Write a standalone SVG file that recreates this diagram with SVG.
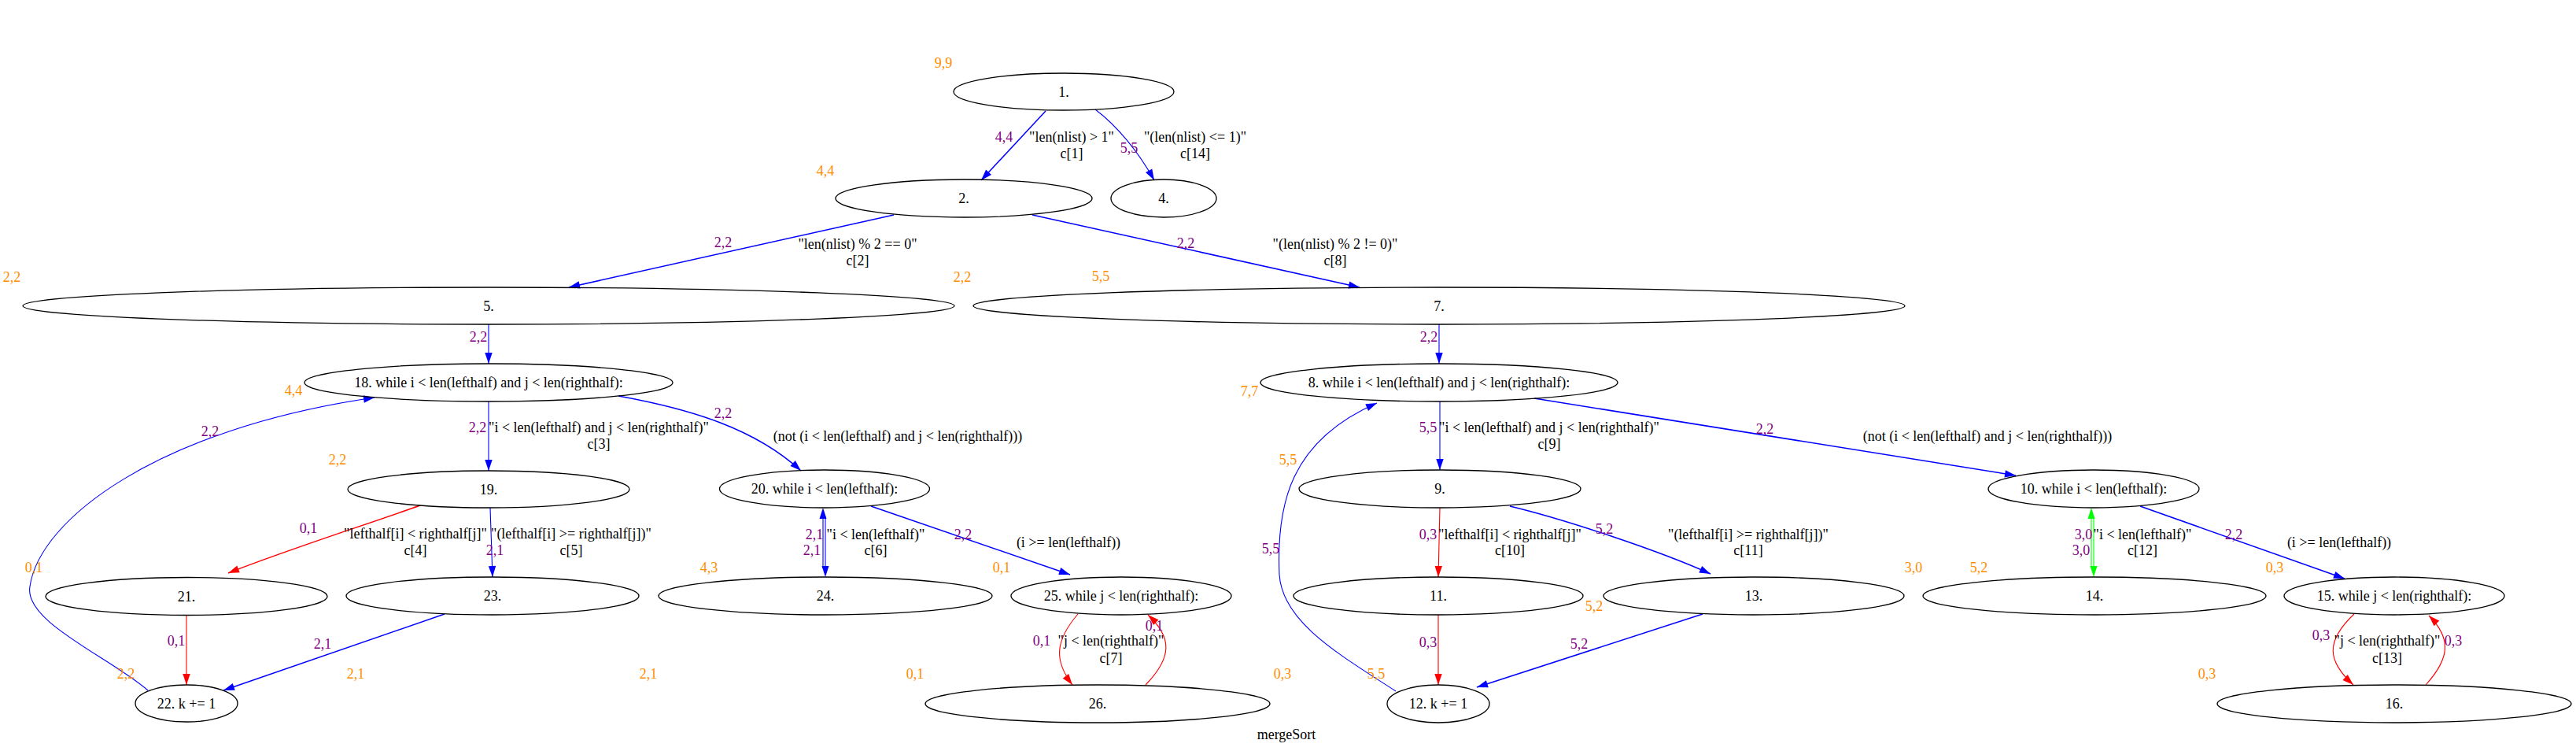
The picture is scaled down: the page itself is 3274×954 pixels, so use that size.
<svg xmlns="http://www.w3.org/2000/svg" width="3274" height="954" viewBox="0 0 3274 954">
<defs>
<style>
.n ellipse{fill:none;stroke:#000;stroke-width:1.3}
text{font-family:"Liberation Serif","Times New Roman",serif;font-size:18px;text-anchor:middle;fill:#000}
.o{fill:#ff8c00}
.p{fill:#800080}
.e path,.e line{fill:none}
.b{stroke:#0000ff}
.r{stroke:#ff0000}
.g{stroke:#00ff00}
.k{stroke-width:1.5}
.h{stroke-width:1.1}
.fb{fill:#0000ff}
.fg{fill:#00ff00}
</style>
<marker id="mb" markerUnits="userSpaceOnUse" markerWidth="14" markerHeight="10" refX="14" refY="5" orient="auto" overflow="visible"><path d="M0,0.3L14,5L0,9.7z" fill="#0000ff"/></marker>
<marker id="mr" markerUnits="userSpaceOnUse" markerWidth="14" markerHeight="10" refX="14" refY="5" orient="auto" overflow="visible"><path d="M0,0.3L14,5L0,9.7z" fill="#ff0000"/></marker>
</defs>
<rect width="3274" height="954" fill="#fff"/>

<g id="edges" class="e">
<g id="e1_2"><path class="b k" d="M1329,141L1247,229" marker-end="url(#mb)"/><text class="p" x="1276" y="180">4,4</text><text x="1362" y="180">"len(nlist) &gt; 1"</text><text x="1362" y="201">c[1]</text></g>
<g id="e1_4"><path class="b h" d="M1392,139C1420,160 1447,193 1467,229" marker-end="url(#mb)"/><text class="p" x="1435" y="194">5,5</text><text x="1519" y="180">"(len(nlist) &lt;= 1)"</text><text x="1519" y="201">c[14]</text></g>
<g id="e2_5"><path class="b k" d="M1136,273L723,365" marker-end="url(#mb)"/><text class="p" x="919" y="314">2,2</text><text x="1090" y="316">"len(nlist) % 2 == 0"</text><text x="1090" y="337">c[2]</text></g>
<g id="e2_7"><path class="b k" d="M1312,273L1728,365" marker-end="url(#mb)"/><text class="p" x="1507" y="315">2,2</text><text x="1697" y="316">"(len(nlist) % 2 != 0)"</text><text x="1697" y="337">c[8]</text></g>
<g id="e5_18"><path class="b h" d="M621,412L621,462" marker-end="url(#mb)"/><text class="p" x="608" y="434">2,2</text></g>
<g id="e7_8"><path class="b h" d="M1829,412L1829,462" marker-end="url(#mb)"/><text class="p" x="1816" y="434">2,2</text></g>
<g id="e18_19"><path class="b h" d="M621,510L621,598" marker-end="url(#mb)"/><text class="p" x="607" y="549">2,2</text><text x="761" y="549">"i &lt; len(lefthalf) and j &lt; len(righthalf)"</text><text x="761" y="570">c[3]</text></g>
<g id="e18_20"><path class="b k" d="M786,503C880,520 960,545 1018,598" marker-end="url(#mb)"/><text class="p" x="919" y="531">2,2</text><text x="1141" y="560">(not (i &lt; len(lefthalf) and j &lt; len(righthalf)))</text></g>
<g id="e22_18"><path class="b h" d="M188,877C140,835 30,790 38,745C50,660 200,545 476,505" marker-end="url(#mb)"/><text class="p" x="267" y="554">2,2</text></g>
<g id="e19_21"><path class="r k" d="M534,642C470,665 360,700 290,728" marker-end="url(#mr)"/><text class="p" x="392" y="677">0,1</text><text x="528" y="684">"lefthalf[i] &lt; righthalf[j]"</text><text x="528" y="705">c[4]</text></g>
<g id="e19_23"><path class="b h" d="M623,645L626,733" marker-end="url(#mb)"/><text class="p" x="629" y="705">2,1</text><text x="726" y="684">"(lefthalf[i] &gt;= righthalf[j])"</text><text x="726" y="705">c[5]</text></g>
<g id="e20_24"><line class="b h" x1="1046" y1="656" x2="1046" y2="722"/><line class="b h" x1="1049" y1="656" x2="1049" y2="722"/><polygon class="fb" points="1046,645 1041.5,659 1050.5,659"/><polygon class="fb" points="1049,733 1044.5,719 1053.5,719"/><text class="p" x="1035" y="685">2,1</text><text class="p" x="1032" y="705">2,1</text><text x="1113" y="685">"i &lt; len(lefthalf)"</text><text x="1113" y="705">c[6]</text></g>
<g id="e20_25"><path class="b k" d="M1107,643L1360,730" marker-end="url(#mb)"/><text class="p" x="1224" y="685">2,2</text><text x="1358" y="695">(i &gt;= len(lefthalf))</text></g>
<g id="e8_9"><path class="b h" d="M1830,510L1830,597" marker-end="url(#mb)"/><text class="p" x="1815" y="549">5,5</text><text x="1969" y="549">"i &lt; len(lefthalf) and j &lt; len(righthalf)"</text><text x="1969" y="570">c[9]</text></g>
<g id="e8_10"><path class="b k" d="M1950,506L2562,604" marker-end="url(#mb)"/><text class="p" x="2243" y="551">2,2</text><text x="2526" y="560">(not (i &lt; len(lefthalf) and j &lt; len(righthalf)))</text></g>
<g id="e12_8"><path class="b h" d="M1774,878C1700,830 1630,790 1626,730C1622,640 1640,560 1750,512" marker-end="url(#mb)"/><text class="p" x="1615" y="703">5,5</text></g>
<g id="e9_11"><path class="r h" d="M1830,645L1828,733" marker-end="url(#mr)"/><text class="p" x="1815" y="685">0,3</text><text x="1919" y="685">"lefthalf[i] &lt; righthalf[j]"</text><text x="1919" y="705">c[10]</text></g>
<g id="e9_13"><path class="b k" d="M1919,643C1990,660 2110,700 2174,729" marker-end="url(#mb)"/><text class="p" x="2039" y="678">5,2</text><text x="2222" y="685">"(lefthalf[i] &gt;= righthalf[j])"</text><text x="2222" y="705">c[11]</text></g>
<g id="e10_14"><line class="g h" x1="2658" y1="656" x2="2658" y2="722"/><line class="g h" x1="2661" y1="656" x2="2661" y2="722"/><polygon class="fg" points="2658,645 2653.5,659 2662.5,659"/><polygon class="fg" points="2661,733 2656.5,719 2665.5,719"/><text class="p" x="2648" y="685">3,0</text><text class="p" x="2645" y="705">3,0</text><text x="2723" y="685">"i &lt; len(lefthalf)"</text><text x="2723" y="705">c[12]</text></g>
<g id="e10_15"><path class="b k" d="M2720,643L2980,735" marker-end="url(#mb)"/><text class="p" x="2839" y="685">2,2</text><text x="2973" y="695">(i &gt;= len(lefthalf))</text></g>
<g id="e21_22"><path class="r h" d="M237,782L237,870" marker-end="url(#mr)"/><text class="p" x="224" y="820">0,1</text></g>
<g id="e23_22"><path class="b k" d="M565,780L284,877" marker-end="url(#mb)"/><text class="p" x="410" y="824">2,1</text></g>
<g id="e25_26"><path class="r h" d="M1370,780C1340,815 1340,840 1363,870" marker-end="url(#mr)"/><text class="p" x="1324" y="820">0,1</text><text x="1412" y="820">"j &lt; len(righthalf)"</text><text x="1412" y="842">c[7]</text></g>
<g id="e26_25"><path class="r h" d="M1456,870C1490,835 1490,810 1459,781" marker-end="url(#mr)"/><text class="p" x="1467" y="801">0,1</text></g>
<g id="e11_12"><path class="r h" d="M1828,781L1828,870" marker-end="url(#mr)"/><text class="p" x="1815" y="822">0,3</text></g>
<g id="e13_12"><path class="b k" d="M2164,780L1877,873" marker-end="url(#mb)"/><text class="p" x="2007" y="824">5,2</text></g>
<g id="e15_16"><path class="r h" d="M2992,780C2955,815 2958,840 2991,870" marker-end="url(#mr)"/><text class="p" x="2950" y="813">0,3</text><text x="3034" y="820">"j &lt; len(righthalf)"</text><text x="3034" y="842">c[13]</text></g>
<g id="e16_15"><path class="r h" d="M3083,870C3115,835 3115,810 3087,782" marker-end="url(#mr)"/><text class="p" x="3118" y="820">0,3</text></g>
</g>

<g id="n1" class="n"><ellipse cx="1352" cy="116.5" rx="140" ry="23.5"/><text x="1352" y="123">1.</text><text class="o" x="1199" y="86">9,9</text></g>
<g id="n2" class="n"><ellipse cx="1225" cy="252" rx="163" ry="24"/><text x="1225" y="258">2.</text><text class="o" x="1049" y="223">4,4</text></g>
<g id="n4" class="n"><ellipse cx="1479" cy="252" rx="67" ry="24"/><text x="1479" y="258">4.</text><text class="o" x="1399" y="357">5,5</text></g>
<g id="n5" class="n"><ellipse cx="621" cy="388.5" rx="592" ry="23.5"/><text x="621" y="395">5.</text><text class="o" x="15" y="358">2,2</text></g>
<g id="n7" class="n"><ellipse cx="1829" cy="388.5" rx="592" ry="23.5"/><text x="1829" y="395">7.</text><text class="o" x="1223" y="358">2,2</text></g>
<g id="n18" class="n"><ellipse cx="621" cy="486" rx="234" ry="24"/><text x="621" y="492">18. while i &lt; len(lefthalf) and j &lt; len(righthalf):</text><text class="o" x="373" y="502">4,4</text></g>
<g id="n8" class="n"><ellipse cx="1829" cy="486" rx="227" ry="24"/><text x="1829" y="492">8. while i &lt; len(lefthalf) and j &lt; len(righthalf):</text><text class="o" x="1588" y="503">7,7</text></g>
<g id="n19" class="n"><ellipse cx="621" cy="621.5" rx="179" ry="23.5"/><text x="621" y="628">19.</text><text class="o" x="429" y="590">2,2</text></g>
<g id="n20" class="n"><ellipse cx="1048" cy="621" rx="133.5" ry="24"/><text x="1048" y="627">20. while i &lt; len(lefthalf):</text><text class="o" x="901" y="727">4,3</text></g>
<g id="n9" class="n"><ellipse cx="1830" cy="621" rx="179" ry="24"/><text x="1830" y="627">9.</text><text class="o" x="1637" y="590">5,5</text></g>
<g id="n10" class="n"><ellipse cx="2661" cy="621" rx="134" ry="24"/><text x="2661" y="627">10. while i &lt; len(lefthalf):</text><text class="o" x="2432" y="727">3,0</text></g>
<g id="n21" class="n"><ellipse cx="237" cy="757.5" rx="179" ry="24"/><text x="237" y="764">21.</text><text class="o" x="43" y="727">0,1</text></g>
<g id="n23" class="n"><ellipse cx="626" cy="757" rx="186" ry="24"/><text x="626" y="763">23.</text><text class="o" x="452" y="862">2,1</text></g>
<g id="n24" class="n"><ellipse cx="1049" cy="757" rx="212" ry="24"/><text x="1049" y="763">24.</text><text class="o" x="824" y="862">2,1</text></g>
<g id="n25" class="n"><ellipse cx="1425" cy="757" rx="140" ry="24"/><text x="1425" y="763">25. while j &lt; len(righthalf):</text><text class="o" x="1273" y="727">0,1</text></g>
<g id="n11" class="n"><ellipse cx="1828" cy="757" rx="184" ry="24"/><text x="1828" y="763">11.</text><text class="o" x="1630" y="862">0,3</text></g>
<g id="n13" class="n"><ellipse cx="2229" cy="757" rx="191" ry="24"/><text x="2229" y="763">13.</text><text class="o" x="2026" y="776">5,2</text></g>
<g id="n14" class="n"><ellipse cx="2662" cy="757" rx="218" ry="24"/><text x="2662" y="763">14.</text><text class="o" x="2515" y="727">5,2</text></g>
<g id="n15" class="n"><ellipse cx="3043" cy="757" rx="140" ry="24"/><text x="3043" y="763">15. while j &lt; len(righthalf):</text><text class="o" x="2891" y="727">0,3</text></g>
<g id="n22" class="n"><ellipse cx="237" cy="893.5" rx="65" ry="23.5"/><text x="237" y="900">22. k += 1</text><text class="o" x="160" y="862">2,2</text></g>
<g id="n26" class="n"><ellipse cx="1395" cy="894" rx="219" ry="24"/><text x="1395" y="900">26.</text><text class="o" x="1163" y="862">0,1</text></g>
<g id="n12" class="n"><ellipse cx="1828" cy="894" rx="65" ry="24"/><text x="1828" y="900">12. k += 1</text><text class="o" x="1749" y="862">5,5</text></g>
<g id="n16" class="n"><ellipse cx="3043" cy="894" rx="225" ry="24"/><text x="3043" y="900">16.</text><text class="o" x="2805" y="862">0,3</text></g>

<text id="title" x="1635" y="939">mergeSort</text>
</svg>
